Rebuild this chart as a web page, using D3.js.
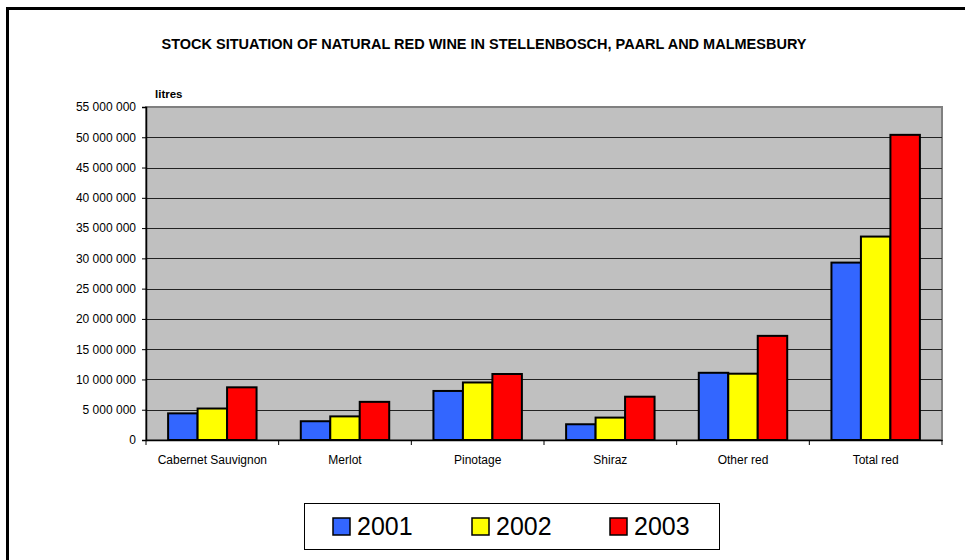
<!DOCTYPE html>
<html>
<head>
<meta charset="utf-8">
<script src="https://cdn.jsdelivr.net/npm/d3@7"></script>
<style>
  body { margin: 0; background: #fff; }
  text { font-family: Arial, "Liberation Sans", sans-serif; }
</style>
</head>
<body>
<div id="chart"></div>
<script>
// Chart data
const categories = ["Cabernet Sauvignon", "Merlot", "Pinotage", "Shiraz", "Other red", "Total red"];
const years = ["2001", "2002", "2003"];
const values2001 = [4400000, 3100000, 8100000, 2600000, 11100000, 29300000];
const values2002 = [5200000, 3900000, 9500000, 3700000, 10950000, 33600000];
const values2003 = [8700000, 6300000, 10900000, 7150000, 17200000, 50400000];
const yTicks = d3.range(0, 55000001, 5000000);
const colors = ["#3366FF", "#FFFF00", "#FF0000"];

const width = 965;
const height = 560;
const plot = { left: 146, right: 942, top: 107, bottom: 440 };

const svg = d3.select("#chart").append("svg")
    .attr("width", width)
    .attr("height", height);

// Outer frame (right and bottom edges fall outside the picture)
svg.append("rect")
    .attr("x", 7.5).attr("y", 8.5)
    .attr("width", 1000).attr("height", 600)
    .attr("fill", "none")
    .attr("stroke", "#000")
    .attr("stroke-width", 3);

// Title
svg.append("text")
    .attr("x", 484).attr("y", 49)
    .attr("text-anchor", "middle")
    .attr("font-size", 14.5)
    .attr("font-weight", "bold")
    .text("STOCK SITUATION OF NATURAL RED WINE IN STELLENBOSCH, PAARL AND MALMESBURY");

// Scales
const x = d3.scaleBand()
    .domain(categories)
    .range([plot.left, plot.right]);

const x1 = d3.scaleBand()
    .domain(years)
    .range([0, x.bandwidth()])
    .paddingOuter(0.75)
    .paddingInner(0);

const y = d3.scaleLinear()
    .domain([0, 55000000])
    .range([plot.bottom, plot.top]);

// Plot background
svg.append("rect")
    .attr("x", plot.left).attr("y", plot.top)
    .attr("width", plot.right - plot.left)
    .attr("height", plot.bottom - plot.top)
    .attr("fill", "#C0C0C0")
    .attr("stroke", "#808080")
    .attr("stroke-width", 2);

// Gridlines
svg.append("g")
    .selectAll("line")
    .data(yTicks.filter(d => d > 0 && d < 55000000))
    .enter().append("line")
    .attr("x1", plot.left).attr("x2", plot.right)
    .attr("y1", d => Math.round(y(d)) + 0.5)
    .attr("y2", d => Math.round(y(d)) + 0.5)
    .attr("stroke", "#222")
    .attr("stroke-width", 1.2);

// Y axis
const fmt = d => d3.format(",")(d).replace(/,/g, " ");
const yAxis = svg.append("g")
    .attr("transform", `translate(${plot.left},0)`)
    .call(d3.axisLeft(y).tickValues(yTicks).tickFormat(fmt).tickSize(4).tickPadding(6));
yAxis.select(".domain").attr("stroke", "#000").attr("stroke-width", 1.5);
yAxis.selectAll(".tick line").attr("stroke", "#000");
yAxis.selectAll("text").attr("font-size", 12).attr("fill", "#000")
    .style("font-family", "Arial, 'Liberation Sans', sans-serif");

// X axis
const xAxis = svg.append("g")
    .attr("transform", `translate(0,${plot.bottom})`)
    .call(d3.axisBottom(x).tickSize(0).tickPadding(15));
xAxis.select(".domain").attr("stroke", "#000").attr("stroke-width", 1.5);
xAxis.selectAll("text").attr("font-size", 12).attr("fill", "#000")
    .style("font-family", "Arial, 'Liberation Sans', sans-serif");

// Category separator ticks
svg.append("g")
    .selectAll("line")
    .data(d3.range(categories.length + 1))
    .enter().append("line")
    .attr("x1", i => plot.left + i * x.step())
    .attr("x2", i => plot.left + i * x.step())
    .attr("y1", plot.bottom)
    .attr("y2", plot.bottom + 5)
    .attr("stroke", "#000");

// "litres" label
svg.append("text")
    .attr("x", 155).attr("y", 98)
    .attr("font-size", 11.5)
    .attr("font-weight", "bold")
    .text("litres");

// Bars
const series = [values2001, values2002, values2003];
const rows = categories.map((c, i) => ({
    category: c,
    values: years.map((yr, j) => ({ year: yr, value: series[j][i], color: colors[j] }))
}));

svg.append("g")
    .selectAll("g")
    .data(rows)
    .enter().append("g")
    .attr("transform", d => `translate(${x(d.category)},0)`)
    .selectAll("rect")
    .data(d => d.values)
    .enter().append("rect")
    .attr("x", d => x1(d.year))
    .attr("y", d => y(d.value))
    .attr("width", x1.bandwidth())
    .attr("height", d => y(0) - y(d.value))
    .attr("fill", d => d.color)
    .attr("stroke", "#000")
    .attr("stroke-width", 2);

// Legend
const legend = svg.append("g");
legend.append("rect")
    .attr("x", 304.5).attr("y", 503.5)
    .attr("width", 415).attr("height", 46)
    .attr("fill", "#fff")
    .attr("stroke", "#000")
    .attr("stroke-width", 1);

const legendX = [333, 472, 610];
years.forEach((yr, i) => {
    legend.append("rect")
        .attr("x", legendX[i]).attr("y", 518)
        .attr("width", 17).attr("height", 17)
        .attr("fill", colors[i])
        .attr("stroke", "#000")
        .attr("stroke-width", 1.5);
    legend.append("text")
        .attr("x", legendX[i] + 24).attr("y", 535)
        .attr("font-size", 25)
        .text(yr);
});
</script>
</body>
</html>
